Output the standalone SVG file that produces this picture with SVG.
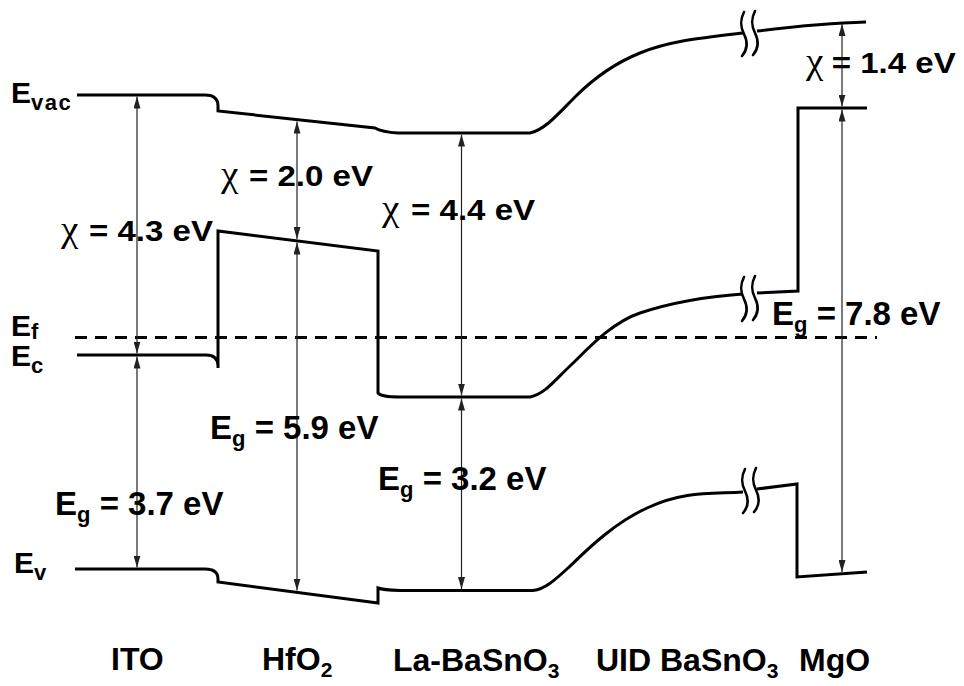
<svg xmlns="http://www.w3.org/2000/svg" width="964" height="686" viewBox="0 0 964 686">
<style>
.band{fill:none;stroke:#000;stroke-width:3;stroke-linejoin:miter;stroke-linecap:butt}
.brk{fill:none;stroke:#000;stroke-width:2.6;stroke-linecap:round}
.fermi{fill:none;stroke:#000;stroke-width:3;stroke-dasharray:12 8}
.arr{stroke:#222;stroke-width:1.2;marker-start:url(#ah);marker-end:url(#ah)}
text{font-family:"Liberation Sans",Arial,sans-serif;font-weight:bold;fill:#000}
.chi{font-family:"Liberation Serif","Times New Roman",serif;font-weight:normal;font-size:35px}
.lbl{font-size:29.5px}
.eg{font-size:33px}
.sub{font-size:22px}
.lvl{font-size:30px}
.mat{font-size:32px}
.msub{font-size:21px}
</style>
<defs>
<marker id="ah" markerUnits="userSpaceOnUse" markerWidth="12" markerHeight="7" refX="12" refY="3.5" orient="auto-start-reverse">
<path d="M0,0 L12,3.5 L0,7 z" fill="#222"/>
</marker>
<path id="bm" d="M-1,-22 C-5,-14 -5,-8 -1,0 C3,8 3,15 -3,22"/>
</defs>

<g id="bands">
<path id="evac" class="band" d="M77,95 H205 Q218,95 218,106 V111 L375,128 Q382,132 398,133 H530 C545,130 560,112 575,97 S610,65 640,53 S700,38 743,33"/>
<path id="evac-mgo" class="band" d="M757,31 C790,27 830,23 866,22"/>
<path id="ec" class="band" d="M77,355 H206 Q218,355 218,366 V368 V231 L378,251 V393 Q381,397 400,397 H530 C545,394 555,380 570,366 S610,323 640,313 S700,297 743,294"/>
<path id="ec-mgo" class="band" d="M757,293 L798,291 V108 H867"/>
<path id="ev" class="band" d="M75,569 H205 Q218,569 218,579 V582 L378,603 V588 Q383,590 400,590.5 H533 C545,589 555,580 568,568 S610,525 647,508 S710,494 743,492"/>
<path id="ev-mgo" class="band" d="M757,489 L797,484 V577 L867,572"/>
<path id="ef" class="fermi" d="M75,337.5 H877"/>
</g>

<g id="breaks" class="brk">
<use href="#bm" x="745" y="34"/>
<use href="#bm" x="756" y="33"/>
<use href="#bm" x="745" y="299"/>
<use href="#bm" x="756" y="298"/>
<use href="#bm" x="746" y="491"/>
<use href="#bm" x="757" y="490"/>
</g>

<g id="connectors">
<line class="arr" x1="137" y1="96.5" x2="137" y2="353.5"/>
<line class="arr" x1="137" y1="356.5" x2="137" y2="567.5"/>
<line class="arr" x1="297" y1="121.5" x2="297" y2="239"/>
<line class="arr" x1="297" y1="242.5" x2="297" y2="590.5"/>
<line class="arr" x1="461.5" y1="134.5" x2="461.5" y2="395.5"/>
<line class="arr" x1="461.5" y1="398.5" x2="461.5" y2="589"/>
<line class="arr" x1="842" y1="24" x2="842" y2="106.5"/>
<line class="arr" x1="842" y1="109.5" x2="842" y2="572"/>
</g>

<g id="level-labels">
<text class="lvl" x="11" y="103">E<tspan class="sub" dy="7" style="letter-spacing:1.5px">vac</tspan></text>
<text class="lvl" x="11" y="336">E<tspan class="sub" dy="3">f</tspan></text>
<text class="lvl" x="11" y="366">E<tspan class="sub" dy="7">c</tspan></text>
<text class="lvl" x="14" y="573">E<tspan class="sub" dy="7">v</tspan></text>
</g>

<g id="chi-labels">
<text class="lbl" transform="translate(61,241) scale(1.12,1)"><tspan class="chi" x="0">χ</tspan><tspan x="25">= 4.3 eV</tspan></text>
<text class="lbl" transform="translate(221,186) scale(1.12,1)"><tspan class="chi" x="0">χ</tspan><tspan x="25">= 2.0 eV</tspan></text>
<text class="lbl" transform="translate(382,220) scale(1.12,1)"><tspan class="chi" x="0">χ</tspan><tspan x="26">= 4.4 eV</tspan></text>
<text class="lbl" transform="translate(806,73) scale(1.12,1)"><tspan class="chi" x="0">χ</tspan><tspan x="23">= 1.4 eV</tspan></text>
</g>

<g id="gap-labels">
<text class="eg" x="55" y="515">E<tspan class="sub" dy="7">g</tspan><tspan dy="-7"> = 3.7 eV</tspan></text>
<text class="eg" x="210" y="439">E<tspan class="sub" dy="7">g</tspan><tspan dy="-7"> = 5.9 eV</tspan></text>
<text class="eg" x="378" y="490">E<tspan class="sub" dy="7">g</tspan><tspan dy="-7"> = 3.2 eV</tspan></text>
<text class="eg" x="772" y="325">E<tspan class="sub" dy="7">g</tspan><tspan dy="-7"> = 7.8 eV</tspan></text>
</g>

<g id="materials">
<text class="mat" x="111" y="670">ITO</text>
<text class="mat" x="262" y="670">HfO<tspan class="msub" dy="7">2</tspan></text>
<text class="mat" x="393" y="671">La-BaSnO<tspan class="msub" dy="7">3</tspan></text>
<text class="mat" x="596" y="671">UID BaSnO<tspan class="msub" dy="7">3</tspan></text>
<text class="mat" x="799" y="671">MgO</text>
</g>
</svg>
